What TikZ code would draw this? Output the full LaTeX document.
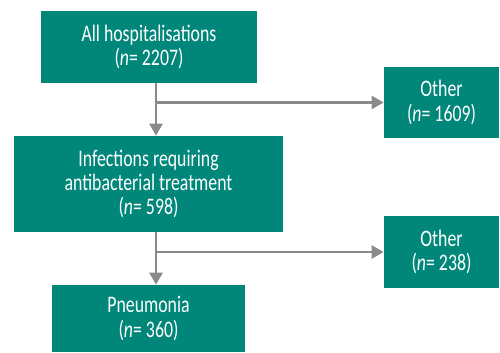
\documentclass[tikz,border=0pt]{standalone}
\usepackage{fontspec}
\setmainfont{Carlito}[FakeStretch=0.75]
\usepackage{tikz}
\usetikzlibrary{arrows.meta}
\definecolor{boxteal}{HTML}{00877A}
\definecolor{arrowgrey}{HTML}{8A8A8A}

\begin{document}
\begin{tikzpicture}[x=0.02cm,y=-0.02cm,
  box/.style={fill=boxteal, text=white, align=center, inner sep=0pt, font=\fontsize{13.5}{13.8}\selectfont},
  arr/.style={-{Triangle[length=0.24cm,width=0.26cm]}, draw=arrowgrey, fill=arrowgrey, line width=0.05cm}]
  \useasboundingbox (0,0) rectangle (500,352);

  \node[box, minimum width=4.32cm, minimum height=1.44cm] (allhosp) at (149,47) {All hospitalisations\\(\textit{n}= 2207)};
  \node[box, minimum width=2.3cm, minimum height=1.42cm] (other1) at (441.5,102.5) {Other\\(\textit{n}= 1609)};
  \node[box, minimum width=5.38cm, minimum height=1.92cm] (infect) at (148.5,184) {Infections requiring\\antibacterial treatment\\(\textit{n}= 598)};
  \node[box, minimum width=2.3cm, minimum height=1.44cm] (other2) at (441.5,252) {Other\\(\textit{n}= 238)};
  \node[box, minimum width=3.86cm, minimum height=1.34cm] (pneu) at (148.5,318.5) {Pneumonia\\(\textit{n}= 360)};

  % spine of the flow
  \coordinate (spine) at (156,0);
  \coordinate (split1) at (156,102.5);
  \coordinate (split2) at (156,252);

  \draw[arr] (allhosp.south -| spine) -- (infect.north -| spine);
  \draw[arr] (split1) -- (other1.west);
  \draw[arr] (infect.south -| spine) -- (pneu.north -| spine);
  \draw[arr] (split2) -- (other2.west);
\end{tikzpicture}
\end{document}
